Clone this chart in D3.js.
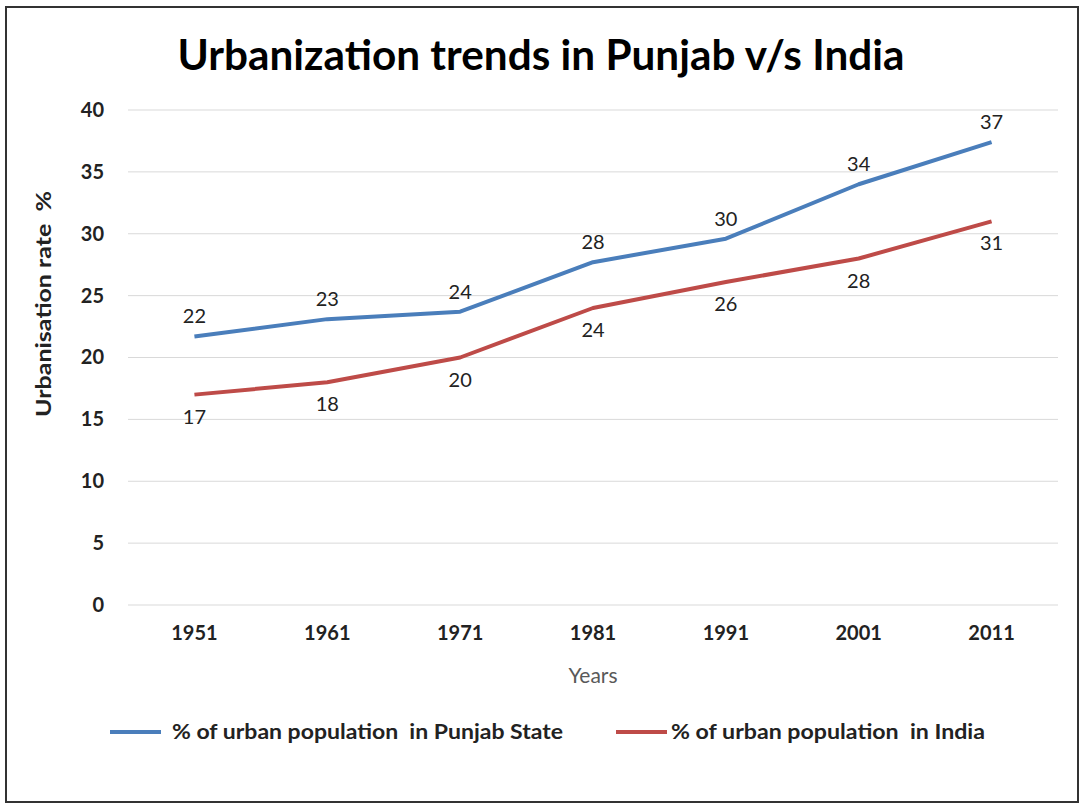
<!DOCTYPE html>
<html><head><meta charset="utf-8">
<script src="https://cdn.jsdelivr.net/npm/d3@7/dist/d3.min.js"></script>
<style>
html,body{margin:0;padding:0;background:#fff;}
svg{display:block;}
</style></head>
<body>
<svg id="chart" width="1082" height="804"></svg>
<script>
const years = ["1951","1961","1971","1981","1991","2001","2011"];
const punjab = [21.7, 23.1, 23.7, 27.7, 29.6, 34.0, 37.4];
const india = [17.0, 18.0, 20.0, 24.0, 26.1, 28.0, 31.0];
const punjabLabels = ["22","23","24","28","30","34","37"];
const indiaLabels = ["17","18","20","24","26","28","31"];
const yTicks = [0,5,10,15,20,25,30,35,40];
const seriesNames = ["% of urban population  in Punjab State", "% of urban population  in India"];

const svg = d3.select("#chart");
const W = 1082, H = 804;
const font = "Lato,'Open Sans',sans-serif";

svg.append("rect").attr("x",0).attr("y",0).attr("width",W).attr("height",H).attr("fill","#fff");
svg.append("rect").attr("x",6).attr("y",7).attr("width",1072).attr("height",795)
  .attr("fill","#fff").attr("stroke","#333").attr("stroke-width",2);

const x = d3.scaleBand().domain(years).range([128,1058]);
const y = d3.scaleLinear().domain([0,40]).range([605,110]);

// gridlines
svg.append("g").selectAll("line").data(yTicks).join("line")
  .attr("x1",128).attr("x2",1058)
  .attr("y1",d=>y(d)).attr("y2",d=>y(d))
  .attr("stroke","#d9d9d9").attr("stroke-width",1);

// y axis labels
const yAxis = svg.append("g").attr("transform","translate(104,0)")
  .call(d3.axisLeft(y).tickValues(yTicks).tickSize(0).tickPadding(0));
yAxis.select(".domain").remove();
yAxis.selectAll("text").attr("font-family",font).attr("font-weight","bold")
  .attr("font-size",20).attr("fill","#222");

// x axis labels
const xAxis = svg.append("g").attr("transform","translate(0,626)")
  .call(d3.axisBottom(x).tickSize(0).tickPadding(0));
xAxis.select(".domain").remove();
xAxis.selectAll("text").attr("font-family",font).attr("font-weight","bold")
  .attr("font-size",20).attr("fill","#222");

// axis titles
svg.append("text").attr("x",593).attr("y",683).attr("text-anchor","middle")
  .attr("font-family",font).attr("font-size",21).attr("fill","#595959").text("Years");
svg.append("text").attr("transform","translate(51,304) rotate(-90)").attr("text-anchor","middle")
  .attr("font-family",font).attr("font-weight","bold").attr("font-size",21).attr("fill","#222")
  .style("white-space","pre")
  .attr("textLength",226).attr("lengthAdjust","spacingAndGlyphs")
  .text("Urbanisation rate  %");

// title
svg.append("text").attr("x",541).attr("y",70).attr("text-anchor","middle")
  .attr("font-family",font).attr("font-weight","bold").attr("font-size",42).attr("fill","#000")
  .attr("textLength",727).attr("lengthAdjust","spacingAndGlyphs")
  .text("Urbanization trends in Punjab v/s India");

const cx = d => x(d) + x.bandwidth()/2;
const line = d3.line().x((d,i)=>cx(years[i])).y(d=>y(d));
const colors = ["#4a7ebb","#be4b48"];

svg.append("path").datum(punjab).attr("d",line).attr("fill","none")
  .attr("stroke",colors[0]).attr("stroke-width",4).attr("stroke-linejoin","round");
svg.append("path").datum(india).attr("d",line).attr("fill","none")
  .attr("stroke",colors[1]).attr("stroke-width",4).attr("stroke-linejoin","round");

svg.append("g").selectAll("text").data(punjab).join("text")
  .attr("x",(d,i)=>cx(years[i])).attr("y",d=>y(d)-13)
  .attr("text-anchor","middle").attr("font-family",font).attr("font-size",20).attr("fill","#222")
  .text((d,i)=>punjabLabels[i]);
svg.append("g").selectAll("text").data(india).join("text")
  .attr("x",(d,i)=>cx(years[i])).attr("y",d=>y(d)+29)
  .attr("text-anchor","middle").attr("font-family",font).attr("font-size",20).attr("fill","#222")
  .text((d,i)=>indiaLabels[i]);

// legend
const legX = [110, 616];
const legW = [391, 314];
seriesNames.forEach((name,i)=>{
  svg.append("line").attr("x1",legX[i]).attr("x2",legX[i]+51).attr("y1",732).attr("y2",732)
    .attr("stroke",colors[i]).attr("stroke-width",4);
  svg.append("text").attr("x",legX[i]+(i===0?62:55)).attr("y",739)
    .attr("font-family",font).attr("font-weight","bold").attr("font-size",21).attr("fill","#222")
    .style("white-space","pre")
    .attr("textLength",legW[i]).attr("lengthAdjust","spacingAndGlyphs")
    .text(name);
});
</script>
</body></html>
